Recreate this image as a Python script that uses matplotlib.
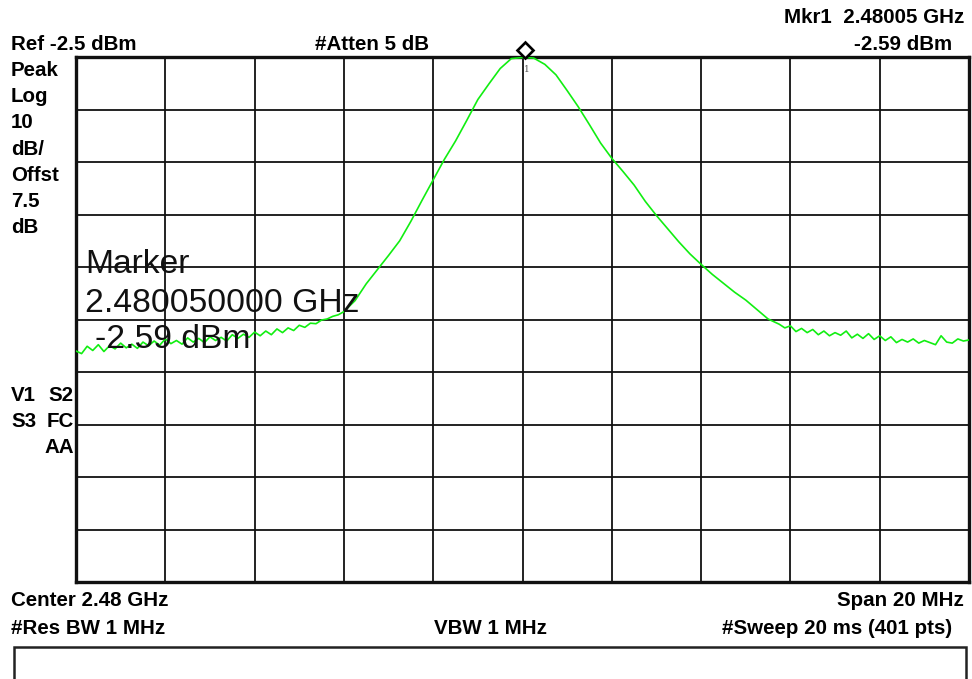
import matplotlib
matplotlib.use("Agg")
import matplotlib.pyplot as plt
from matplotlib.patches import Rectangle
from matplotlib.transforms import offset_copy

# analyzer settings
center_ghz = 2.48
span_mhz = 20
ref_dbm = -2.5
db_per_div = 10
mkr_ghz = 2.48005
mkr_dbm = -2.59

# trace: offset from center (MHz) and level (dBm)
offset_mhz = [
    -10.0, -9.875, -9.75, -9.625, -9.5, -9.375, -9.25, -9.125, -9.0, -8.875,
    -8.75, -8.625, -8.5, -8.375, -8.25, -8.125, -8.0, -7.875, -7.75, -7.625,
    -7.5, -7.375, -7.25, -7.125, -7.0, -6.875, -6.75, -6.625, -6.5, -6.375,
    -6.25, -6.125, -6.0, -5.875, -5.75, -5.625, -5.5, -5.375, -5.25, -5.125,
    -5.0, -4.875, -4.75, -4.625, -4.5, -4.375, -4.25, -4.125, -4.0,
    -3.75, -3.5, -3.25, -3.0, -2.75, -2.5, -2.25, -2.0, -1.75, -1.5, -1.25,
    -1.0, -0.75, -0.5, -0.25, 0.0, 0.05, 0.25, 0.5, 0.75, 1.0, 1.25, 1.5,
    1.75, 2.0, 2.25, 2.5, 2.75, 3.0, 3.25, 3.5, 3.75, 4.0, 4.25, 4.5, 4.75,
    5.0, 5.25, 5.5,
    5.75, 5.875, 6.0, 6.125, 6.25, 6.375, 6.5, 6.625, 6.75, 6.875,
    7.0, 7.125, 7.25, 7.375, 7.5, 7.625, 7.75, 7.875, 8.0, 8.125,
    8.25, 8.375, 8.5, 8.625, 8.75, 8.875, 9.0, 9.125, 9.25, 9.375,
    9.5, 9.625, 9.75, 9.875, 10.0,
]
level_dbm = [
    -58.5, -59.0, -57.6, -58.4, -57.3, -58.6, -57.5, -58.1, -57.0, -57.9,
    -57.2, -58.0, -56.8, -57.5, -56.6, -57.4, -56.2, -57.1, -56.5, -57.2,
    -56.0, -56.8, -56.1, -56.9, -55.8, -56.5, -55.9, -56.6, -55.4, -56.1,
    -55.3, -55.9, -54.9, -55.6, -54.7, -55.4, -54.3, -55.0, -54.1, -54.6,
    -53.6, -54.0, -53.2, -53.3, -52.6, -52.4, -51.9, -51.6, -51.0,
    -48.9, -45.7, -43.0, -40.3, -37.5, -33.8, -29.8, -25.9, -22.0, -18.5, -14.6,
    -10.6, -7.6, -4.7, -2.8, -2.6, -2.59, -2.7, -3.9, -5.9, -8.9, -12.0, -15.4,
    -18.9, -21.8, -24.3, -26.9, -30.0, -32.7, -35.2, -37.7, -40.0, -42.0, -43.9, -45.6, -47.3,
    -48.8, -50.6, -52.4,
    -53.4, -54.1, -53.7, -54.8, -54.2, -55.0, -54.4, -55.4, -54.7, -55.6,
    -55.0, -55.5, -54.7, -56.0, -55.3, -56.1, -55.2, -56.3, -55.6, -56.5,
    -55.8, -56.9, -56.3, -56.8, -56.2, -57.0, -56.5, -56.9, -57.3, -55.6,
    -56.8, -57.0, -56.2, -56.6, -56.4,
]

W, H = 972, 679
fig = plt.figure(figsize=(W / 100, H / 100), dpi=100)
fig.patch.set_facecolor("white")

def px(x, y):
    return x / W, 1 - y / H

# grid area
l, t = px(76, 57)
r, b = px(969, 582)
ax = fig.add_axes([l, b, r - l, t - b])

freq_ghz = [center_ghz + o / 1000 for o in offset_mhz]
half = span_mhz / 2 / 1000
ax.set_xlim(center_ghz - half, center_ghz + half)
ax.set_ylim(ref_dbm - 10 * db_per_div, ref_dbm)
ax.set_xticks([center_ghz - half + i * span_mhz / 10 / 1000 for i in range(11)])
ax.set_yticks([ref_dbm - i * db_per_div for i in range(11)])
ax.grid(True, color="#111111", linewidth=1.3)
ax.tick_params(length=0, labelbottom=False, labelleft=False)
for s in ax.spines.values():
    s.set_linewidth(2.4)
    s.set_color("#111111")

ax.plot(freq_ghz, level_dbm, color="#11ee11", linewidth=1.2, zorder=3)

# marker diamond sits just above the peak, label "1" under it
up = offset_copy(ax.transData, fig=fig, x=0, y=5.6, units="points")
ax.plot([mkr_ghz], [mkr_dbm], marker="D", markersize=8, markerfacecolor="white",
        markeredgecolor="black", markeredgewidth=1.9, transform=up, clip_on=False, zorder=5)
down = offset_copy(ax.transData, fig=fig, x=1.5, y=-9, units="points")
ax.text(mkr_ghz, mkr_dbm, "1", transform=down, fontsize=6.5, color="#555555",
        family="DejaVu Serif", ha="center", va="center")

bold = dict(family=["Liberation Sans", "DejaVu Sans"], fontweight="bold", fontsize=14.8,
            color="black", va="baseline")

fig.text(*px(11, 50), "Ref -2.5 dBm", ha="left", **bold)
fig.text(*px(315, 50), "#Atten 5 dB", ha="left", **bold)
fig.text(*px(964, 22.7), "Mkr1  2.48005 GHz", ha="right", **bold)
fig.text(*px(952, 50), "-2.59 dBm", ha="right", **bold)

side = ["Peak", "Log", "10", "dB/", "Offst", "7.5", "dB"]
for i, s in enumerate(side):
    fig.text(*px(11, 76 + 26.2 * i), s, ha="left", **bold)

fig.text(*px(11, 400.7), "V1", ha="left", **bold)
fig.text(*px(74, 400.7), "S2", ha="right", **bold)
fig.text(*px(11, 427.3), "S3", ha="left", **bold)
fig.text(*px(74, 427.3), "FC", ha="right", **bold)
fig.text(*px(74, 453.3), "AA", ha="right", **bold)

fig.text(*px(11, 606.5), "Center 2.48 GHz", ha="left", **bold)
fig.text(*px(964, 606.5), "Span 20 MHz", ha="right", **bold)
fig.text(*px(11, 633.5), "#Res BW 1 MHz", ha="left", **bold)
fig.text(*px(490, 633.5), "VBW 1 MHz", ha="center", **bold)
fig.text(*px(952, 633.5), "#Sweep 20 ms (401 pts)", ha="right", **bold)

# big marker readout overlaid on the grid
big = dict(family=["Liberation Sans", "DejaVu Sans"], fontsize=24.2, color="#111111",
           va="baseline", ha="left", zorder=6)
fig.text(*px(85, 273.3), "Marker", **big)
fig.text(*px(85, 311.7), "2.480050000 GHz", **big)
fig.text(*px(95, 348.3), "-2.59 dBm", **big)

# empty message box at the bottom
bx, by = px(14, 690)
bw = (966 - 14) / W
bh = (690 - 647) / H
fig.patches.append(Rectangle((bx, by), bw, bh, transform=fig.transFigure,
                             facecolor="white", edgecolor="#222222", linewidth=1.8))

fig.savefig("out.png", dpi=100)
